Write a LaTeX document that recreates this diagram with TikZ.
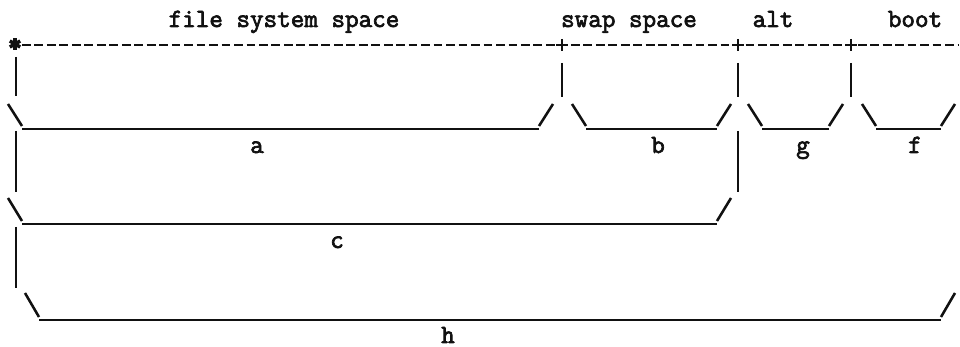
\documentclass[tikz,border=0pt]{standalone}
\usepackage{fontspec}
\newfontfamily\artfont{Latin Modern Mono}[FakeBold=2.6]
\usetikzlibrary{positioning}
\definecolor{ink}{HTML}{111111}

\begin{document}
\begin{tikzpicture}[
  x=0.02cm,y=-0.02cm,
  color=ink,
  art/.style={draw=ink,line width=1.45pt},
  dashline/.style={art,dash pattern=on 5pt off 2.1pt},
  label/.style={font=\artfont\bfseries\fontsize{15}{17}\selectfont,
    anchor=base,inner sep=0pt}
]
  \useasboundingbox (0,0) rectangle (960,347);

  \node[label] (fss) at (284,27) {file system space};
  \node[label] (swap) at (629,27) {swap space};
  \node[label] (alt) at (773,27) {alt};
  \node[label] (boot) at (915,27) {boot};

  \foreach \ang in {90,30,150}{
    \draw[art,line width=2pt] (15,44) ++(\ang:6) -- ++(\ang+180:12);
  }
  \draw[dashline] (22,45) -- (958,45);
  \foreach \x in {562,738,851}{
    \draw[art] (\x,39) -- (\x,51) (\x-6,45) -- (\x+6,45);
  }

  \foreach \x/\ya/\yb in {16/57/96,562/63/97,738/63/97,851/63/97,
    16/131/192,738/131/192,16/227/288}{
    \draw[art] (\x,\ya) -- (\x,\yb);
  }

  \foreach \l/\r/\t/\b in {8/553/104/129,572/731/104/129,748/843/104/129,
    862/955/104/129,8/731/198/224,25/955/293/320}{
    \draw[art] (\l,\t) -- (\l+14,\b-3);
    \draw[art] (\l+14,\b) -- (\r-14,\b);
    \draw[art] (\r-14,\b-3) -- (\r,\t);
  }

  \node[label] (la) at (257,153) {a};
  \node[label] (lb) at (658,153) {b};
  \node[label] (lg) at (803,153) {g};
  \node[label] (lf) at (915,153) {f};
  \node[label] (lc) at (337,248) {c};
  \node[label] (lh) at (448,343) {h};
\end{tikzpicture}
\end{document}
